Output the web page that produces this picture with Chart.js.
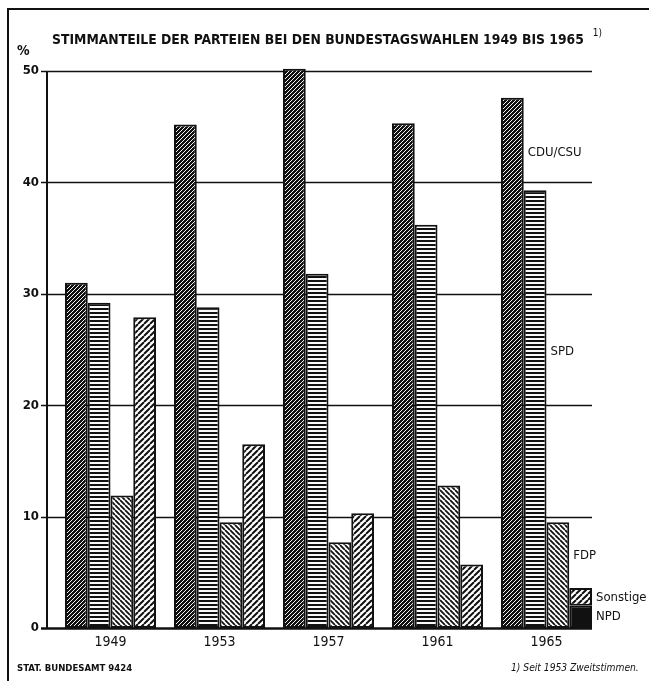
<!DOCTYPE html>
<html>
<head>
<meta charset="utf-8">
<script src="https://cdn.jsdelivr.net/npm/chart.js@4"></script>
<style>
    body { margin: 0; background: #fff; }
    #wrap { position: relative; width: 649px; height: 681px; overflow: hidden; }
    #frame { position: absolute; left: 7px; top: 8px; width: 700px; height: 700px; border-left: 2px solid #111; border-top: 2px solid #111; }
    canvas { position: absolute; left: 0; top: 0; }
    .txt { position: absolute; font-family: "DejaVu Sans Condensed", "DejaVu Sans", sans-serif; color: #111; white-space: nowrap; }
    #title { left: 52px; top: 29px; font-size: 13.8px; font-weight: bold; }
    #title sup { font-size: 10px; font-weight: normal; margin-left: 9px; position: relative; top: -2px; }
    #pct { left: 17px; top: 42px; font-size: 14px; font-weight: bold; }
    #source { left: 17px; top: 662px; font-size: 9.5px; font-weight: bold; }
    #note { left: 511px; top: 662px; font-size: 10.2px; font-style: oblique; }
</style>
</head>
<body>
<div id="wrap">
    <div id="frame"></div>
    <canvas id="chart" width="649" height="681"></canvas>
    <div class="txt" id="title">STIMMANTEILE DER PARTEIEN BEI DEN BUNDESTAGSWAHLEN 1949 BIS 1965<sup>1)</sup></div>
    <div class="txt" id="pct">%</div>
    <div class="txt" id="source">STAT. BUNDESAMT 9424</div>
    <div class="txt" id="note">1) Seit 1953 Zweitstimmen.</div>
</div>
<script>
// Jahre der Bundestagswahlen
const years = ['1949', '1953', '1957', '1961', '1965'];

// Stimmanteile in %
const cduValues = [31.0, 45.2, 50.2, 45.3, 47.6];
const spdValues = [29.2, 28.8, 31.8, 36.2, 39.3];
const fdpValues = [11.9, 9.5, 7.7, 12.8, 9.5];
const npdValues = [null, null, null, null, 2.0];
const sonstigeValues = [27.9, 16.5, 10.3, 5.7, 1.6];

// Achsenteilung
const yTicks = [0, 10, 20, 30, 40, 50];

// Schraffur als Muster
function hatch(size, dir, lineW, bg, fg) {
    const c = document.createElement('canvas');
    c.width = size;
    c.height = size;
    const g = c.getContext('2d');
    g.fillStyle = bg;
    g.fillRect(0, 0, size, size);
    g.strokeStyle = fg;
    g.fillStyle = fg;
    g.lineWidth = lineW;
    if (dir === '-') {
        g.fillRect(0, 0, size, lineW);
    } else {
        g.beginPath();
        for (let k = -1; k <= 1; k++) {
            if (dir === '/') {
                g.moveTo(k * size, size);
                g.lineTo(k * size + size, 0);
            } else {
                g.moveTo(k * size, 0);
                g.lineTo(k * size + size, size);
            }
        }
        g.stroke();
    }
    return g.createPattern(c, 'repeat');
}

const cduFill = hatch(4, '/', 1, '#111', '#f4f4f4');
const spdFill = hatch(4, '-', 2, '#fafafa', '#111');
const fdpFill = hatch(5, '\\', 1.8, '#fff', '#111');
const sonstFill = hatch(6, '/', 2, '#fff', '#111');

// Raster und Achse wie im Original (links etwas abgesetzt)
const gridPlugin = {
    id: 'grid',
    beforeDatasetsDraw(chart) {
        const ctx = chart.ctx;
        const y = chart.scales.y;
        const area = chart.chartArea;
        const axisX = area.left - 9;
        const right = area.right - 9;
        ctx.save();
        ctx.strokeStyle = '#111';
        yTicks.forEach(v => {
            const py = Math.round(y.getPixelForValue(v)) + 0.5;
            ctx.lineWidth = v === 0 ? 2.5 : 1.6;
            ctx.beginPath();
            ctx.moveTo(axisX - 6, py);
            ctx.lineTo(right, py);
            ctx.stroke();
        });
        ctx.lineWidth = 2;
        ctx.beginPath();
        ctx.moveTo(axisX, y.getPixelForValue(50));
        ctx.lineTo(axisX, y.getPixelForValue(0));
        ctx.stroke();
        ctx.restore();
    }
};

// Beschriftung der Parteien neben den Saeulen 1965
const partyLabels = [
    { text: 'CDU/CSU', ds: 0, at: 42.7 },
    { text: 'SPD', ds: 1, at: 24.8 },
    { text: 'FDP', ds: 2, at: 6.5 },
    { text: 'Sonstige', ds: 4, at: 2.7 },
    { text: 'NPD', ds: 3, at: 1.0 }
];

const labelPlugin = {
    id: 'partyLabels',
    afterDatasetsDraw(chart) {
        const ctx = chart.ctx;
        const y = chart.scales.y;
        ctx.save();
        ctx.fillStyle = '#111';
        ctx.font = '13px "DejaVu Sans Condensed", "DejaVu Sans", sans-serif';
        ctx.textBaseline = 'middle';
        partyLabels.forEach(l => {
            const bar = chart.getDatasetMeta(l.ds).data[4];
            ctx.fillText(l.text, bar.x + bar.width / 2 + 4, y.getPixelForValue(l.at));
        });
        ctx.restore();
    }
};

function barSet(label, data, fill, stack) {
    return {
        label: label,
        data: data,
        backgroundColor: fill,
        borderColor: '#111',
        borderWidth: 2,
        borderSkipped: false,
        stack: stack,
        clip: false,
        categoryPercentage: 0.835,
        barPercentage: 1.0
    };
}

new Chart(document.getElementById('chart'), {
    type: 'bar',
    data: {
        labels: years,
        datasets: [
            barSet('CDU/CSU', cduValues, cduFill, 'a'),
            barSet('SPD', spdValues, spdFill, 'b'),
            barSet('FDP', fdpValues, fdpFill, 'c'),
            barSet('NPD', npdValues, '#111', 'd'),
            barSet('Sonstige', sonstigeValues, sonstFill, 'd')
        ]
    },
    options: {
        responsive: false,
        animation: false,
        layout: { padding: { left: 0, right: 48, top: 71, bottom: 0 } },
        plugins: {
            legend: { display: false },
            tooltip: { enabled: false }
        },
        scales: {
            x: {
                stacked: true,
                grid: { display: false, drawTicks: false },
                border: { display: false },
                ticks: {
                    padding: 6,
                    color: '#111',
                    font: { family: '"DejaVu Sans Condensed", "DejaVu Sans", sans-serif', size: 14 }
                },
                afterFit(scale) { scale.height = 53; }
            },
            y: {
                stacked: true,
                min: 0,
                max: 50,
                grid: { display: false, drawTicks: false },
                border: { display: false },
                ticks: {
                    stepSize: 10,
                    padding: 17,
                    color: '#111',
                    font: { family: '"DejaVu Sans Condensed", "DejaVu Sans", sans-serif', size: 13, weight: 'bold' }
                },
                afterFit(scale) { scale.width = 56; }
            }
        }
    },
    plugins: [gridPlugin, labelPlugin]
});
</script>
</body>
</html>
